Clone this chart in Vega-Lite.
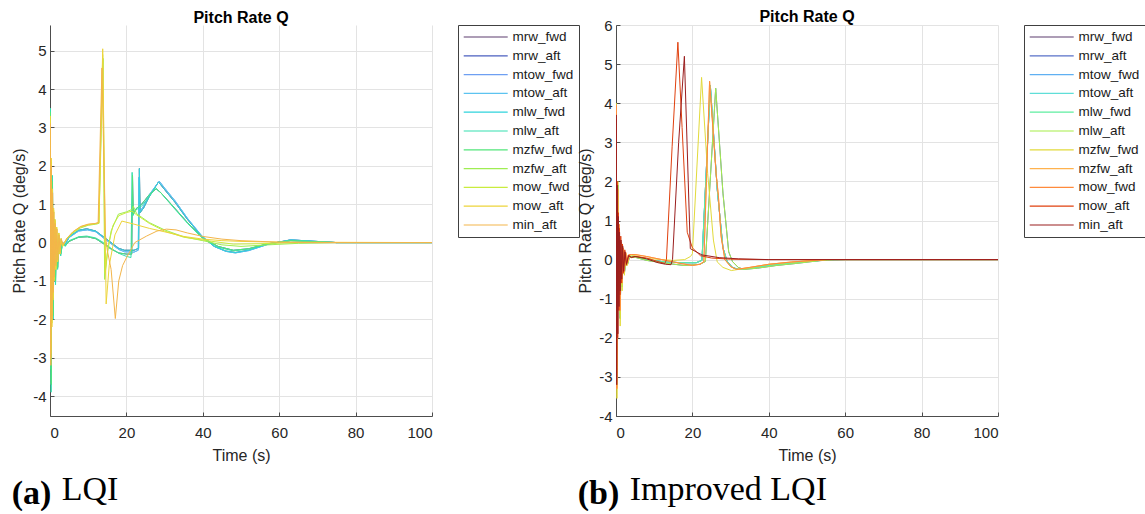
{
"$schema": "https://vega.github.io/schema/vega-lite/v6.json",
"background": "white",
"padding": {"left": 11, "top": 9, "right": 0, "bottom": 0},
"config": {
  "locale": {"number": {"decimal": ".", "thousands": ",", "grouping": [3], "currency": ["$", ""], "minus": "-"}},
  "view": {"stroke": null},
  "concat": {"spacing": -3},
  "axis": {"labelFont": "Liberation Sans", "labelFontSize": 15, "labelColor": "#262626", "titleFont": "Liberation Sans", "titleFontSize": 16, "titleFontWeight": "normal", "titleColor": "#262626", "gridColor": "#e3e3e3", "gridWidth": 1, "domainColor": "#4d4d4d", "domainWidth": 1, "tickColor": "#4d4d4d", "tickSize": -4, "labelPadding": 8, "titlePadding": 5},
  "axisX": {"labelPadding": 13, "titlePadding": 7},
  "title": {"font": "Liberation Sans", "fontSize": 16, "fontWeight": "bold", "color": "#000000", "offset": -1, "frame": "group", "anchor": "middle"},
  "legend": {"orient": "right", "offset": 25, "symbolType": "M-1,0H6", "symbolSize": 158, "symbolStrokeWidth": 1.2, "labelFont": "Liberation Sans", "labelFontSize": 13.5, "labelColor": "#1a1a1a", "strokeColor": "#404040", "fillColor": "white", "padding": 5, "rowPadding": 4.8, "labelOffset": 35.4, "titlePadding": 0}
},
"datasets": {
"a": [
{"s":"mrw_fwd","t":0,"q":0},{"s":"mrw_fwd","t":0.1,"q":2.8},{"s":"mrw_fwd","t":0.3,"q":-3.3},{"s":"mrw_fwd","t":0.55,"q":1.3},{"s":"mrw_fwd","t":0.8,"q":-1.6},{"s":"mrw_fwd","t":1.05,"q":0.5},{"s":"mrw_fwd","t":1.3,"q":-1.0},{"s":"mrw_fwd","t":1.6,"q":0.3},{"s":"mrw_fwd","t":1.9,"q":-0.6},{"s":"mrw_fwd","t":2.3,"q":0.1},{"s":"mrw_fwd","t":2.7,"q":-0.3},{"s":"mrw_fwd","t":3.2,"q":0.0},{"s":"mrw_fwd","t":4,"q":-0.05},{"s":"mrw_fwd","t":5,"q":0.15},{"s":"mrw_fwd","t":7.5,"q":0.32},{"s":"mrw_fwd","t":9.6,"q":0.36},{"s":"mrw_fwd","t":12,"q":0.3},{"s":"mrw_fwd","t":14,"q":0.15},{"s":"mrw_fwd","t":16,"q":0.0},{"s":"mrw_fwd","t":18,"q":-0.15},{"s":"mrw_fwd","t":19.5,"q":-0.2},{"s":"mrw_fwd","t":22,"q":-0.2},{"s":"mrw_fwd","t":23.2,"q":-0.15},{"s":"mrw_fwd","t":23.4,"q":1.93},{"s":"mrw_fwd","t":23.6,"q":0.78},{"s":"mrw_fwd","t":24.5,"q":0.9},{"s":"mrw_fwd","t":26,"q":1.2},{"s":"mrw_fwd","t":28.4,"q":1.58},{"s":"mrw_fwd","t":30,"q":1.38},{"s":"mrw_fwd","t":32.8,"q":1.04},{"s":"mrw_fwd","t":36,"q":0.6},{"s":"mrw_fwd","t":39.7,"q":0.16},{"s":"mrw_fwd","t":43,"q":-0.1},{"s":"mrw_fwd","t":46,"q":-0.22},{"s":"mrw_fwd","t":48.5,"q":-0.26},{"s":"mrw_fwd","t":52,"q":-0.2},{"s":"mrw_fwd","t":57,"q":-0.04},{"s":"mrw_fwd","t":63,"q":0.07},{"s":"mrw_fwd","t":68,"q":0.04},{"s":"mrw_fwd","t":75,"q":0},{"s":"mrw_fwd","t":100,"q":0},
{"s":"mrw_aft","t":0,"q":0},{"s":"mrw_aft","t":0.1,"q":3.4},{"s":"mrw_aft","t":0.3,"q":-3.7},{"s":"mrw_aft","t":0.5,"q":0.9},{"s":"mrw_aft","t":0.65,"q":1.6},{"s":"mrw_aft","t":0.85,"q":-1.9},{"s":"mrw_aft","t":1.05,"q":0.25},{"s":"mrw_aft","t":1.2,"q":0.55},{"s":"mrw_aft","t":1.45,"q":-1.0},{"s":"mrw_aft","t":1.7,"q":0.2},{"s":"mrw_aft","t":2.0,"q":-0.65},{"s":"mrw_aft","t":2.4,"q":0.08},{"s":"mrw_aft","t":2.8,"q":-0.3},{"s":"mrw_aft","t":3.3,"q":0.0},{"s":"mrw_aft","t":4,"q":-0.08},{"s":"mrw_aft","t":5,"q":0.03},{"s":"mrw_aft","t":7.5,"q":0.14},{"s":"mrw_aft","t":9.8,"q":0.15},{"s":"mrw_aft","t":12,"q":0.1},{"s":"mrw_aft","t":14,"q":-0.03},{"s":"mrw_aft","t":16,"q":-0.17},{"s":"mrw_aft","t":18,"q":-0.27},{"s":"mrw_aft","t":20,"q":-0.3},{"s":"mrw_aft","t":21.4,"q":-0.3},{"s":"mrw_aft","t":21.6,"q":1.75},{"s":"mrw_aft","t":21.8,"q":0.75},{"s":"mrw_aft","t":22.5,"q":0.88},{"s":"mrw_aft","t":24,"q":1.0},{"s":"mrw_aft","t":26,"q":1.25},{"s":"mrw_aft","t":27.8,"q":1.4},{"s":"mrw_aft","t":29,"q":1.3},{"s":"mrw_aft","t":32,"q":0.97},{"s":"mrw_aft","t":36,"q":0.52},{"s":"mrw_aft","t":40,"q":0.12},{"s":"mrw_aft","t":44,"q":-0.1},{"s":"mrw_aft","t":48,"q":-0.2},{"s":"mrw_aft","t":52,"q":-0.16},{"s":"mrw_aft","t":57,"q":-0.03},{"s":"mrw_aft","t":63,"q":0.05},{"s":"mrw_aft","t":68,"q":0.03},{"s":"mrw_aft","t":75,"q":0},{"s":"mrw_aft","t":100,"q":0},
{"s":"mtow_fwd","t":0,"q":0},{"s":"mtow_fwd","t":0.1,"q":2.6},{"s":"mtow_fwd","t":0.3,"q":-3.1},{"s":"mtow_fwd","t":0.55,"q":1.2},{"s":"mtow_fwd","t":0.8,"q":-1.5},{"s":"mtow_fwd","t":1.05,"q":0.45},{"s":"mtow_fwd","t":1.3,"q":-0.9},{"s":"mtow_fwd","t":1.6,"q":0.25},{"s":"mtow_fwd","t":1.9,"q":-0.55},{"s":"mtow_fwd","t":2.3,"q":0.08},{"s":"mtow_fwd","t":2.7,"q":-0.25},{"s":"mtow_fwd","t":3.2,"q":0.0},{"s":"mtow_fwd","t":4,"q":-0.05},{"s":"mtow_fwd","t":5,"q":0.13},{"s":"mtow_fwd","t":7.5,"q":0.3},{"s":"mtow_fwd","t":9.8,"q":0.33},{"s":"mtow_fwd","t":12,"q":0.28},{"s":"mtow_fwd","t":14,"q":0.12},{"s":"mtow_fwd","t":16,"q":-0.03},{"s":"mtow_fwd","t":18,"q":-0.18},{"s":"mtow_fwd","t":19.5,"q":-0.24},{"s":"mtow_fwd","t":22,"q":-0.25},{"s":"mtow_fwd","t":23.1,"q":-0.2},{"s":"mtow_fwd","t":23.3,"q":1.7},{"s":"mtow_fwd","t":23.5,"q":0.8},{"s":"mtow_fwd","t":24.5,"q":0.95},{"s":"mtow_fwd","t":26,"q":1.25},{"s":"mtow_fwd","t":28.6,"q":1.6},{"s":"mtow_fwd","t":30,"q":1.42},{"s":"mtow_fwd","t":32.8,"q":1.08},{"s":"mtow_fwd","t":36,"q":0.63},{"s":"mtow_fwd","t":39.7,"q":0.18},{"s":"mtow_fwd","t":43,"q":-0.1},{"s":"mtow_fwd","t":46,"q":-0.23},{"s":"mtow_fwd","t":48.5,"q":-0.27},{"s":"mtow_fwd","t":52,"q":-0.21},{"s":"mtow_fwd","t":57,"q":-0.05},{"s":"mtow_fwd","t":63,"q":0.07},{"s":"mtow_fwd","t":68,"q":0.04},{"s":"mtow_fwd","t":75,"q":0},{"s":"mtow_fwd","t":100,"q":0},
{"s":"mtow_aft","t":0,"q":0},{"s":"mtow_aft","t":0.1,"q":2.6},{"s":"mtow_aft","t":0.3,"q":-3.1},{"s":"mtow_aft","t":0.55,"q":1.2},{"s":"mtow_aft","t":0.8,"q":-1.5},{"s":"mtow_aft","t":1.05,"q":0.45},{"s":"mtow_aft","t":1.3,"q":-0.9},{"s":"mtow_aft","t":1.6,"q":0.25},{"s":"mtow_aft","t":1.9,"q":-0.55},{"s":"mtow_aft","t":2.3,"q":0.08},{"s":"mtow_aft","t":2.7,"q":-0.25},{"s":"mtow_aft","t":3.2,"q":0.0},{"s":"mtow_aft","t":4,"q":-0.05},{"s":"mtow_aft","t":5,"q":0.13},{"s":"mtow_aft","t":7.5,"q":0.3},{"s":"mtow_aft","t":9.8,"q":0.33},{"s":"mtow_aft","t":12,"q":0.28},{"s":"mtow_aft","t":14,"q":0.12},{"s":"mtow_aft","t":16,"q":-0.03},{"s":"mtow_aft","t":18,"q":-0.18},{"s":"mtow_aft","t":19.5,"q":-0.24},{"s":"mtow_aft","t":22,"q":-0.25},{"s":"mtow_aft","t":23.1,"q":-0.2},{"s":"mtow_aft","t":23.3,"q":1.7},{"s":"mtow_aft","t":23.5,"q":0.8},{"s":"mtow_aft","t":24.5,"q":0.95},{"s":"mtow_aft","t":26,"q":1.25},{"s":"mtow_aft","t":28.6,"q":1.6},{"s":"mtow_aft","t":30,"q":1.42},{"s":"mtow_aft","t":32.8,"q":1.08},{"s":"mtow_aft","t":36,"q":0.63},{"s":"mtow_aft","t":39.7,"q":0.18},{"s":"mtow_aft","t":43,"q":-0.1},{"s":"mtow_aft","t":46,"q":-0.23},{"s":"mtow_aft","t":48.5,"q":-0.27},{"s":"mtow_aft","t":52,"q":-0.21},{"s":"mtow_aft","t":57,"q":-0.05},{"s":"mtow_aft","t":63,"q":0.07},{"s":"mtow_aft","t":68,"q":0.04},{"s":"mtow_aft","t":75,"q":0},{"s":"mtow_aft","t":100,"q":0},
{"s":"mlw_fwd","t":0,"q":0},{"s":"mlw_fwd","t":0.1,"q":2.8},{"s":"mlw_fwd","t":0.3,"q":-3.3},{"s":"mlw_fwd","t":0.55,"q":1.3},{"s":"mlw_fwd","t":0.8,"q":-1.6},{"s":"mlw_fwd","t":1.05,"q":0.5},{"s":"mlw_fwd","t":1.3,"q":-1.0},{"s":"mlw_fwd","t":1.6,"q":0.3},{"s":"mlw_fwd","t":1.9,"q":-0.6},{"s":"mlw_fwd","t":2.3,"q":0.1},{"s":"mlw_fwd","t":2.7,"q":-0.3},{"s":"mlw_fwd","t":3.2,"q":0.0},{"s":"mlw_fwd","t":4,"q":-0.05},{"s":"mlw_fwd","t":5,"q":0.15},{"s":"mlw_fwd","t":7.5,"q":0.32},{"s":"mlw_fwd","t":9.6,"q":0.36},{"s":"mlw_fwd","t":12,"q":0.3},{"s":"mlw_fwd","t":14,"q":0.15},{"s":"mlw_fwd","t":16,"q":0.0},{"s":"mlw_fwd","t":18,"q":-0.15},{"s":"mlw_fwd","t":19.5,"q":-0.2},{"s":"mlw_fwd","t":22,"q":-0.2},{"s":"mlw_fwd","t":23.2,"q":-0.15},{"s":"mlw_fwd","t":23.4,"q":1.93},{"s":"mlw_fwd","t":23.6,"q":0.78},{"s":"mlw_fwd","t":24.5,"q":0.9},{"s":"mlw_fwd","t":26,"q":1.2},{"s":"mlw_fwd","t":28.4,"q":1.58},{"s":"mlw_fwd","t":30,"q":1.38},{"s":"mlw_fwd","t":32.8,"q":1.04},{"s":"mlw_fwd","t":36,"q":0.6},{"s":"mlw_fwd","t":39.7,"q":0.16},{"s":"mlw_fwd","t":43,"q":-0.1},{"s":"mlw_fwd","t":46,"q":-0.22},{"s":"mlw_fwd","t":48.5,"q":-0.26},{"s":"mlw_fwd","t":52,"q":-0.2},{"s":"mlw_fwd","t":57,"q":-0.04},{"s":"mlw_fwd","t":63,"q":0.07},{"s":"mlw_fwd","t":68,"q":0.04},{"s":"mlw_fwd","t":75,"q":0},{"s":"mlw_fwd","t":100,"q":0},
{"s":"mlw_aft","t":0,"q":0},{"s":"mlw_aft","t":0.1,"q":3.5},{"s":"mlw_aft","t":0.3,"q":-3.9},{"s":"mlw_aft","t":0.5,"q":1.0},{"s":"mlw_aft","t":0.65,"q":1.75},{"s":"mlw_aft","t":0.85,"q":-2.0},{"s":"mlw_aft","t":1.05,"q":0.3},{"s":"mlw_aft","t":1.2,"q":0.6},{"s":"mlw_aft","t":1.45,"q":-1.1},{"s":"mlw_aft","t":1.7,"q":0.25},{"s":"mlw_aft","t":2.0,"q":-0.7},{"s":"mlw_aft","t":2.4,"q":0.1},{"s":"mlw_aft","t":2.8,"q":-0.35},{"s":"mlw_aft","t":3.3,"q":0.0},{"s":"mlw_aft","t":4,"q":-0.1},{"s":"mlw_aft","t":5,"q":0.05},{"s":"mlw_aft","t":7.5,"q":0.15},{"s":"mlw_aft","t":9.6,"q":0.17},{"s":"mlw_aft","t":12,"q":0.12},{"s":"mlw_aft","t":14,"q":0.0},{"s":"mlw_aft","t":16,"q":-0.15},{"s":"mlw_aft","t":18,"q":-0.28},{"s":"mlw_aft","t":20,"q":-0.36},{"s":"mlw_aft","t":21.2,"q":-0.39},{"s":"mlw_aft","t":21.5,"q":1.83},{"s":"mlw_aft","t":21.7,"q":0.7},{"s":"mlw_aft","t":22.5,"q":0.85},{"s":"mlw_aft","t":24,"q":0.95},{"s":"mlw_aft","t":26,"q":1.2},{"s":"mlw_aft","t":27.6,"q":1.43},{"s":"mlw_aft","t":29,"q":1.3},{"s":"mlw_aft","t":32,"q":0.95},{"s":"mlw_aft","t":36,"q":0.5},{"s":"mlw_aft","t":40,"q":0.1},{"s":"mlw_aft","t":44,"q":-0.12},{"s":"mlw_aft","t":48,"q":-0.22},{"s":"mlw_aft","t":52,"q":-0.17},{"s":"mlw_aft","t":57,"q":-0.03},{"s":"mlw_aft","t":63,"q":0.05},{"s":"mlw_aft","t":68,"q":0.03},{"s":"mlw_aft","t":75,"q":0},{"s":"mlw_aft","t":100,"q":0},
{"s":"mzfw_fwd","t":0,"q":0},{"s":"mzfw_fwd","t":0.1,"q":3.4},{"s":"mzfw_fwd","t":0.3,"q":-3.7},{"s":"mzfw_fwd","t":0.5,"q":0.9},{"s":"mzfw_fwd","t":0.65,"q":1.6},{"s":"mzfw_fwd","t":0.85,"q":-1.9},{"s":"mzfw_fwd","t":1.05,"q":0.25},{"s":"mzfw_fwd","t":1.2,"q":0.55},{"s":"mzfw_fwd","t":1.45,"q":-1.0},{"s":"mzfw_fwd","t":1.7,"q":0.2},{"s":"mzfw_fwd","t":2.0,"q":-0.65},{"s":"mzfw_fwd","t":2.4,"q":0.08},{"s":"mzfw_fwd","t":2.8,"q":-0.3},{"s":"mzfw_fwd","t":3.3,"q":0.0},{"s":"mzfw_fwd","t":4,"q":-0.08},{"s":"mzfw_fwd","t":5,"q":0.03},{"s":"mzfw_fwd","t":7.5,"q":0.14},{"s":"mzfw_fwd","t":9.8,"q":0.15},{"s":"mzfw_fwd","t":12,"q":0.1},{"s":"mzfw_fwd","t":14,"q":-0.03},{"s":"mzfw_fwd","t":16,"q":-0.17},{"s":"mzfw_fwd","t":18,"q":-0.27},{"s":"mzfw_fwd","t":20,"q":-0.3},{"s":"mzfw_fwd","t":21.4,"q":-0.3},{"s":"mzfw_fwd","t":21.6,"q":1.75},{"s":"mzfw_fwd","t":21.8,"q":0.75},{"s":"mzfw_fwd","t":22.5,"q":0.88},{"s":"mzfw_fwd","t":24,"q":1.0},{"s":"mzfw_fwd","t":26,"q":1.25},{"s":"mzfw_fwd","t":27.8,"q":1.4},{"s":"mzfw_fwd","t":29,"q":1.3},{"s":"mzfw_fwd","t":32,"q":0.97},{"s":"mzfw_fwd","t":36,"q":0.52},{"s":"mzfw_fwd","t":40,"q":0.12},{"s":"mzfw_fwd","t":44,"q":-0.1},{"s":"mzfw_fwd","t":48,"q":-0.2},{"s":"mzfw_fwd","t":52,"q":-0.16},{"s":"mzfw_fwd","t":57,"q":-0.03},{"s":"mzfw_fwd","t":63,"q":0.05},{"s":"mzfw_fwd","t":68,"q":0.03},{"s":"mzfw_fwd","t":75,"q":0},{"s":"mzfw_fwd","t":100,"q":0},
{"s":"mzfw_aft","t":0,"q":0},{"s":"mzfw_aft","t":0.05,"q":3.0},{"s":"mzfw_aft","t":0.2,"q":-2.8},{"s":"mzfw_aft","t":0.35,"q":2.0},{"s":"mzfw_aft","t":0.5,"q":-2.0},{"s":"mzfw_aft","t":0.65,"q":1.3},{"s":"mzfw_aft","t":0.8,"q":-1.4},{"s":"mzfw_aft","t":0.95,"q":0.8},{"s":"mzfw_aft","t":1.1,"q":-0.9},{"s":"mzfw_aft","t":1.3,"q":0.55},{"s":"mzfw_aft","t":1.5,"q":-0.65},{"s":"mzfw_aft","t":1.75,"q":0.35},{"s":"mzfw_aft","t":2.0,"q":-0.45},{"s":"mzfw_aft","t":2.3,"q":0.2},{"s":"mzfw_aft","t":2.6,"q":-0.25},{"s":"mzfw_aft","t":2.9,"q":0.1},{"s":"mzfw_aft","t":3.3,"q":-0.08},{"s":"mzfw_aft","t":4.5,"q":0.1},{"s":"mzfw_aft","t":6,"q":0.25},{"s":"mzfw_aft","t":8,"q":0.38},{"s":"mzfw_aft","t":10,"q":0.45},{"s":"mzfw_aft","t":12,"q":0.48},{"s":"mzfw_aft","t":12.8,"q":0.5},{"s":"mzfw_aft","t":13.9,"q":4.8},{"s":"mzfw_aft","t":14.3,"q":-0.96},{"s":"mzfw_aft","t":15,"q":-0.3},{"s":"mzfw_aft","t":16,"q":0.3},{"s":"mzfw_aft","t":17.9,"q":0.74},{"s":"mzfw_aft","t":20,"q":0.8},{"s":"mzfw_aft","t":21.6,"q":0.87},{"s":"mzfw_aft","t":21.8,"q":0.95},{"s":"mzfw_aft","t":22.7,"q":0.75},{"s":"mzfw_aft","t":26,"q":0.52},{"s":"mzfw_aft","t":30,"q":0.33},{"s":"mzfw_aft","t":35,"q":0.15},{"s":"mzfw_aft","t":40,"q":0.05},{"s":"mzfw_aft","t":45,"q":-0.06},{"s":"mzfw_aft","t":50,"q":-0.1},{"s":"mzfw_aft","t":57,"q":-0.06},{"s":"mzfw_aft","t":65,"q":-0.02},{"s":"mzfw_aft","t":75,"q":0},{"s":"mzfw_aft","t":100,"q":0},
{"s":"mow_fwd","t":0,"q":0},{"s":"mow_fwd","t":0.05,"q":3.2},{"s":"mow_fwd","t":0.2,"q":-2.9},{"s":"mow_fwd","t":0.35,"q":2.1},{"s":"mow_fwd","t":0.5,"q":-2.1},{"s":"mow_fwd","t":0.65,"q":1.35},{"s":"mow_fwd","t":0.8,"q":-1.45},{"s":"mow_fwd","t":0.95,"q":0.85},{"s":"mow_fwd","t":1.1,"q":-0.95},{"s":"mow_fwd","t":1.3,"q":0.6},{"s":"mow_fwd","t":1.5,"q":-0.7},{"s":"mow_fwd","t":1.75,"q":0.4},{"s":"mow_fwd","t":2.0,"q":-0.5},{"s":"mow_fwd","t":2.3,"q":0.25},{"s":"mow_fwd","t":2.6,"q":-0.3},{"s":"mow_fwd","t":2.9,"q":0.1},{"s":"mow_fwd","t":3.3,"q":-0.1},{"s":"mow_fwd","t":4.5,"q":0.12},{"s":"mow_fwd","t":6,"q":0.27},{"s":"mow_fwd","t":8,"q":0.4},{"s":"mow_fwd","t":10,"q":0.46},{"s":"mow_fwd","t":12,"q":0.49},{"s":"mow_fwd","t":12.8,"q":0.5},{"s":"mow_fwd","t":13.8,"q":4.9},{"s":"mow_fwd","t":14.4,"q":-0.8},{"s":"mow_fwd","t":15.2,"q":-0.1},{"s":"mow_fwd","t":16.5,"q":0.45},{"s":"mow_fwd","t":18,"q":0.7},{"s":"mow_fwd","t":20,"q":0.78},{"s":"mow_fwd","t":21.5,"q":0.82},{"s":"mow_fwd","t":22.7,"q":0.72},{"s":"mow_fwd","t":26,"q":0.5},{"s":"mow_fwd","t":30,"q":0.3},{"s":"mow_fwd","t":35,"q":0.14},{"s":"mow_fwd","t":41,"q":0.05},{"s":"mow_fwd","t":48,"q":-0.04},{"s":"mow_fwd","t":55,"q":-0.03},{"s":"mow_fwd","t":65,"q":0},{"s":"mow_fwd","t":100,"q":0},
{"s":"mow_aft","t":0,"q":0},{"s":"mow_aft","t":0.05,"q":3.3},{"s":"mow_aft","t":0.2,"q":-3.0},{"s":"mow_aft","t":0.35,"q":2.2},{"s":"mow_aft","t":0.5,"q":-2.2},{"s":"mow_aft","t":0.65,"q":1.4},{"s":"mow_aft","t":0.8,"q":-1.5},{"s":"mow_aft","t":0.95,"q":0.9},{"s":"mow_aft","t":1.1,"q":-1.0},{"s":"mow_aft","t":1.3,"q":0.6},{"s":"mow_aft","t":1.5,"q":-0.7},{"s":"mow_aft","t":1.75,"q":0.4},{"s":"mow_aft","t":2.0,"q":-0.5},{"s":"mow_aft","t":2.3,"q":0.25},{"s":"mow_aft","t":2.6,"q":-0.3},{"s":"mow_aft","t":2.9,"q":0.1},{"s":"mow_aft","t":3.3,"q":-0.1},{"s":"mow_aft","t":4.5,"q":0.12},{"s":"mow_aft","t":6,"q":0.28},{"s":"mow_aft","t":8,"q":0.41},{"s":"mow_aft","t":10,"q":0.47},{"s":"mow_aft","t":12,"q":0.5},{"s":"mow_aft","t":12.8,"q":0.52},{"s":"mow_aft","t":13.8,"q":5.05},{"s":"mow_aft","t":14.7,"q":-1.6},{"s":"mow_aft","t":15.5,"q":-0.6},{"s":"mow_aft","t":17,"q":0.2},{"s":"mow_aft","t":18.8,"q":0.56},{"s":"mow_aft","t":22,"q":0.48},{"s":"mow_aft","t":26,"q":0.37},{"s":"mow_aft","t":30,"q":0.28},{"s":"mow_aft","t":35,"q":0.16},{"s":"mow_aft","t":40,"q":0.09},{"s":"mow_aft","t":45,"q":0.05},{"s":"mow_aft","t":50,"q":0.03},{"s":"mow_aft","t":60,"q":0.01},{"s":"mow_aft","t":100,"q":0},
{"s":"min_aft","t":0,"q":0},{"s":"min_aft","t":0.07,"q":3.1},{"s":"min_aft","t":0.22,"q":-3.2},{"s":"min_aft","t":0.38,"q":2.0},{"s":"min_aft","t":0.53,"q":-2.0},{"s":"min_aft","t":0.68,"q":1.3},{"s":"min_aft","t":0.83,"q":-1.3},{"s":"min_aft","t":0.98,"q":0.8},{"s":"min_aft","t":1.13,"q":-0.9},{"s":"min_aft","t":1.33,"q":0.5},{"s":"min_aft","t":1.55,"q":-0.6},{"s":"min_aft","t":1.8,"q":0.35},{"s":"min_aft","t":2.05,"q":-0.45},{"s":"min_aft","t":2.35,"q":0.2},{"s":"min_aft","t":2.65,"q":-0.25},{"s":"min_aft","t":2.95,"q":0.1},{"s":"min_aft","t":3.4,"q":-0.05},{"s":"min_aft","t":4.5,"q":0.12},{"s":"min_aft","t":6,"q":0.28},{"s":"min_aft","t":8,"q":0.42},{"s":"min_aft","t":10,"q":0.48},{"s":"min_aft","t":12,"q":0.5},{"s":"min_aft","t":12.6,"q":0.52},{"s":"min_aft","t":13.6,"q":4.55},{"s":"min_aft","t":14.5,"q":0.2},{"s":"min_aft","t":15,"q":-0.2},{"s":"min_aft","t":16,"q":-0.7},{"s":"min_aft","t":17.1,"q":-1.98},{"s":"min_aft","t":18,"q":-1.0},{"s":"min_aft","t":19,"q":-0.6},{"s":"min_aft","t":20,"q":-0.4},{"s":"min_aft","t":22.2,"q":0.0},{"s":"min_aft","t":25.3,"q":0.17},{"s":"min_aft","t":28,"q":0.3},{"s":"min_aft","t":30.5,"q":0.35},{"s":"min_aft","t":33,"q":0.33},{"s":"min_aft","t":36,"q":0.25},{"s":"min_aft","t":40,"q":0.16},{"s":"min_aft","t":45,"q":0.09},{"s":"min_aft","t":50,"q":0.05},{"s":"min_aft","t":55,"q":0.03},{"s":"min_aft","t":60,"q":0.01},{"s":"min_aft","t":70,"q":0},{"s":"min_aft","t":100,"q":0}
],
"b": [
{"s":"mrw_fwd","t":0,"q":0},{"s":"mrw_fwd","t":0.05,"q":3.4},{"s":"mrw_fwd","t":0.25,"q":-3.2},{"s":"mrw_fwd","t":0.5,"q":1.9},{"s":"mrw_fwd","t":0.7,"q":-0.9},{"s":"mrw_fwd","t":0.9,"q":0.7},{"s":"mrw_fwd","t":1.1,"q":-1.5},{"s":"mrw_fwd","t":1.35,"q":0.35},{"s":"mrw_fwd","t":1.6,"q":-0.7},{"s":"mrw_fwd","t":1.9,"q":0.25},{"s":"mrw_fwd","t":2.2,"q":-0.35},{"s":"mrw_fwd","t":2.6,"q":0.12},{"s":"mrw_fwd","t":3.0,"q":-0.12},{"s":"mrw_fwd","t":3.5,"q":0.08},{"s":"mrw_fwd","t":4,"q":0.08},{"s":"mrw_fwd","t":5,"q":0.08},{"s":"mrw_fwd","t":8,"q":0.0},{"s":"mrw_fwd","t":12,"q":-0.05},{"s":"mrw_fwd","t":17,"q":-0.08},{"s":"mrw_fwd","t":21,"q":-0.08},{"s":"mrw_fwd","t":22.5,"q":-0.02},{"s":"mrw_fwd","t":24.7,"q":4.45},{"s":"mrw_fwd","t":26.5,"q":1.8},{"s":"mrw_fwd","t":28,"q":0.3},{"s":"mrw_fwd","t":29.1,"q":-0.05},{"s":"mrw_fwd","t":30.5,"q":-0.2},{"s":"mrw_fwd","t":32,"q":-0.25},{"s":"mrw_fwd","t":35,"q":-0.22},{"s":"mrw_fwd","t":40,"q":-0.15},{"s":"mrw_fwd","t":45,"q":-0.1},{"s":"mrw_fwd","t":50,"q":-0.05},{"s":"mrw_fwd","t":55,"q":-0.01},{"s":"mrw_fwd","t":60,"q":0},{"s":"mrw_fwd","t":100,"q":0},
{"s":"mrw_aft","t":0,"q":0},{"s":"mrw_aft","t":0.05,"q":3.2},{"s":"mrw_aft","t":0.25,"q":-3.0},{"s":"mrw_aft","t":0.5,"q":1.8},{"s":"mrw_aft","t":0.7,"q":-0.9},{"s":"mrw_aft","t":0.9,"q":0.65},{"s":"mrw_aft","t":1.1,"q":-1.4},{"s":"mrw_aft","t":1.35,"q":0.3},{"s":"mrw_aft","t":1.6,"q":-0.65},{"s":"mrw_aft","t":1.9,"q":0.2},{"s":"mrw_aft","t":2.2,"q":-0.3},{"s":"mrw_aft","t":2.6,"q":0.1},{"s":"mrw_aft","t":3.0,"q":-0.1},{"s":"mrw_aft","t":3.5,"q":0.06},{"s":"mrw_aft","t":4,"q":0.06},{"s":"mrw_aft","t":5,"q":0.06},{"s":"mrw_aft","t":8,"q":-0.02},{"s":"mrw_aft","t":12,"q":-0.08},{"s":"mrw_aft","t":17.8,"q":-0.15},{"s":"mrw_aft","t":22,"q":-0.12},{"s":"mrw_aft","t":23.4,"q":-0.05},{"s":"mrw_aft","t":26.1,"q":4.38},{"s":"mrw_aft","t":28,"q":1.7},{"s":"mrw_aft","t":29.5,"q":0.2},{"s":"mrw_aft","t":30.5,"q":-0.05},{"s":"mrw_aft","t":32,"q":-0.2},{"s":"mrw_aft","t":33.5,"q":-0.25},{"s":"mrw_aft","t":37,"q":-0.22},{"s":"mrw_aft","t":42,"q":-0.15},{"s":"mrw_aft","t":47,"q":-0.1},{"s":"mrw_aft","t":53,"q":-0.03},{"s":"mrw_aft","t":57,"q":0},{"s":"mrw_aft","t":100,"q":0},
{"s":"mtow_fwd","t":0,"q":0},{"s":"mtow_fwd","t":0.05,"q":3.4},{"s":"mtow_fwd","t":0.25,"q":-3.2},{"s":"mtow_fwd","t":0.5,"q":1.9},{"s":"mtow_fwd","t":0.7,"q":-0.9},{"s":"mtow_fwd","t":0.9,"q":0.7},{"s":"mtow_fwd","t":1.1,"q":-1.5},{"s":"mtow_fwd","t":1.35,"q":0.35},{"s":"mtow_fwd","t":1.6,"q":-0.7},{"s":"mtow_fwd","t":1.9,"q":0.25},{"s":"mtow_fwd","t":2.2,"q":-0.35},{"s":"mtow_fwd","t":2.6,"q":0.12},{"s":"mtow_fwd","t":3.0,"q":-0.12},{"s":"mtow_fwd","t":3.5,"q":0.08},{"s":"mtow_fwd","t":4,"q":0.08},{"s":"mtow_fwd","t":5,"q":0.08},{"s":"mtow_fwd","t":8,"q":0.0},{"s":"mtow_fwd","t":12,"q":-0.05},{"s":"mtow_fwd","t":17,"q":-0.08},{"s":"mtow_fwd","t":21,"q":-0.08},{"s":"mtow_fwd","t":22.5,"q":-0.02},{"s":"mtow_fwd","t":24.7,"q":4.45},{"s":"mtow_fwd","t":26.5,"q":1.8},{"s":"mtow_fwd","t":28,"q":0.3},{"s":"mtow_fwd","t":29.1,"q":-0.05},{"s":"mtow_fwd","t":30.5,"q":-0.2},{"s":"mtow_fwd","t":32,"q":-0.25},{"s":"mtow_fwd","t":35,"q":-0.22},{"s":"mtow_fwd","t":40,"q":-0.15},{"s":"mtow_fwd","t":45,"q":-0.1},{"s":"mtow_fwd","t":50,"q":-0.05},{"s":"mtow_fwd","t":55,"q":-0.01},{"s":"mtow_fwd","t":60,"q":0},{"s":"mtow_fwd","t":100,"q":0},
{"s":"mtow_aft","t":0,"q":0},{"s":"mtow_aft","t":0.05,"q":3.4},{"s":"mtow_aft","t":0.25,"q":-3.2},{"s":"mtow_aft","t":0.5,"q":1.9},{"s":"mtow_aft","t":0.7,"q":-0.9},{"s":"mtow_aft","t":0.9,"q":0.7},{"s":"mtow_aft","t":1.1,"q":-1.5},{"s":"mtow_aft","t":1.35,"q":0.35},{"s":"mtow_aft","t":1.6,"q":-0.7},{"s":"mtow_aft","t":1.9,"q":0.25},{"s":"mtow_aft","t":2.2,"q":-0.35},{"s":"mtow_aft","t":2.6,"q":0.12},{"s":"mtow_aft","t":3.0,"q":-0.12},{"s":"mtow_aft","t":3.5,"q":0.08},{"s":"mtow_aft","t":4,"q":0.08},{"s":"mtow_aft","t":5,"q":0.08},{"s":"mtow_aft","t":8,"q":0.0},{"s":"mtow_aft","t":12,"q":-0.05},{"s":"mtow_aft","t":17,"q":-0.08},{"s":"mtow_aft","t":21,"q":-0.08},{"s":"mtow_aft","t":22.5,"q":-0.02},{"s":"mtow_aft","t":24.7,"q":4.45},{"s":"mtow_aft","t":26.5,"q":1.8},{"s":"mtow_aft","t":28,"q":0.3},{"s":"mtow_aft","t":29.1,"q":-0.05},{"s":"mtow_aft","t":30.5,"q":-0.2},{"s":"mtow_aft","t":32,"q":-0.25},{"s":"mtow_aft","t":35,"q":-0.22},{"s":"mtow_aft","t":40,"q":-0.15},{"s":"mtow_aft","t":45,"q":-0.1},{"s":"mtow_aft","t":50,"q":-0.05},{"s":"mtow_aft","t":55,"q":-0.01},{"s":"mtow_aft","t":60,"q":0},{"s":"mtow_aft","t":100,"q":0},
{"s":"mlw_fwd","t":0,"q":0},{"s":"mlw_fwd","t":0.05,"q":3.4},{"s":"mlw_fwd","t":0.25,"q":-3.2},{"s":"mlw_fwd","t":0.5,"q":1.9},{"s":"mlw_fwd","t":0.7,"q":-0.9},{"s":"mlw_fwd","t":0.9,"q":0.7},{"s":"mlw_fwd","t":1.1,"q":-1.5},{"s":"mlw_fwd","t":1.35,"q":0.35},{"s":"mlw_fwd","t":1.6,"q":-0.7},{"s":"mlw_fwd","t":1.9,"q":0.25},{"s":"mlw_fwd","t":2.2,"q":-0.35},{"s":"mlw_fwd","t":2.6,"q":0.12},{"s":"mlw_fwd","t":3.0,"q":-0.12},{"s":"mlw_fwd","t":3.5,"q":0.08},{"s":"mlw_fwd","t":4,"q":0.08},{"s":"mlw_fwd","t":5,"q":0.08},{"s":"mlw_fwd","t":8,"q":0.0},{"s":"mlw_fwd","t":12,"q":-0.05},{"s":"mlw_fwd","t":17,"q":-0.08},{"s":"mlw_fwd","t":21,"q":-0.08},{"s":"mlw_fwd","t":22.5,"q":-0.02},{"s":"mlw_fwd","t":24.7,"q":4.45},{"s":"mlw_fwd","t":26.5,"q":1.8},{"s":"mlw_fwd","t":28,"q":0.3},{"s":"mlw_fwd","t":29.1,"q":-0.05},{"s":"mlw_fwd","t":30.5,"q":-0.2},{"s":"mlw_fwd","t":32,"q":-0.25},{"s":"mlw_fwd","t":35,"q":-0.22},{"s":"mlw_fwd","t":40,"q":-0.15},{"s":"mlw_fwd","t":45,"q":-0.1},{"s":"mlw_fwd","t":50,"q":-0.05},{"s":"mlw_fwd","t":55,"q":-0.01},{"s":"mlw_fwd","t":60,"q":0},{"s":"mlw_fwd","t":100,"q":0},
{"s":"mlw_aft","t":0,"q":0},{"s":"mlw_aft","t":0.05,"q":3.2},{"s":"mlw_aft","t":0.25,"q":-3.0},{"s":"mlw_aft","t":0.5,"q":1.8},{"s":"mlw_aft","t":0.7,"q":-0.9},{"s":"mlw_aft","t":0.9,"q":0.65},{"s":"mlw_aft","t":1.1,"q":-1.4},{"s":"mlw_aft","t":1.35,"q":0.3},{"s":"mlw_aft","t":1.6,"q":-0.65},{"s":"mlw_aft","t":1.9,"q":0.2},{"s":"mlw_aft","t":2.2,"q":-0.3},{"s":"mlw_aft","t":2.6,"q":0.1},{"s":"mlw_aft","t":3.0,"q":-0.1},{"s":"mlw_aft","t":3.5,"q":0.06},{"s":"mlw_aft","t":4,"q":0.06},{"s":"mlw_aft","t":5,"q":0.06},{"s":"mlw_aft","t":8,"q":-0.02},{"s":"mlw_aft","t":12,"q":-0.08},{"s":"mlw_aft","t":17.8,"q":-0.15},{"s":"mlw_aft","t":22,"q":-0.12},{"s":"mlw_aft","t":23.4,"q":-0.05},{"s":"mlw_aft","t":26.1,"q":4.38},{"s":"mlw_aft","t":28,"q":1.7},{"s":"mlw_aft","t":29.5,"q":0.2},{"s":"mlw_aft","t":30.5,"q":-0.05},{"s":"mlw_aft","t":32,"q":-0.2},{"s":"mlw_aft","t":33.5,"q":-0.25},{"s":"mlw_aft","t":37,"q":-0.22},{"s":"mlw_aft","t":42,"q":-0.15},{"s":"mlw_aft","t":47,"q":-0.1},{"s":"mlw_aft","t":53,"q":-0.03},{"s":"mlw_aft","t":57,"q":0},{"s":"mlw_aft","t":100,"q":0},
{"s":"mzfw_fwd","t":0,"q":0},{"s":"mzfw_fwd","t":0.05,"q":4.0},{"s":"mzfw_fwd","t":0.25,"q":-3.55},{"s":"mzfw_fwd","t":0.5,"q":2.0},{"s":"mzfw_fwd","t":0.7,"q":-1.0},{"s":"mzfw_fwd","t":0.9,"q":0.8},{"s":"mzfw_fwd","t":1.1,"q":-1.7},{"s":"mzfw_fwd","t":1.35,"q":0.4},{"s":"mzfw_fwd","t":1.6,"q":-0.8},{"s":"mzfw_fwd","t":1.9,"q":0.3},{"s":"mzfw_fwd","t":2.2,"q":-0.4},{"s":"mzfw_fwd","t":2.6,"q":0.15},{"s":"mzfw_fwd","t":3.0,"q":-0.15},{"s":"mzfw_fwd","t":3.5,"q":0.1},{"s":"mzfw_fwd","t":4,"q":0.1},{"s":"mzfw_fwd","t":5,"q":0.1},{"s":"mzfw_fwd","t":8,"q":0.03},{"s":"mzfw_fwd","t":12,"q":0.0},{"s":"mzfw_fwd","t":15,"q":-0.02},{"s":"mzfw_fwd","t":18,"q":0.0},{"s":"mzfw_fwd","t":19.5,"q":0.08},{"s":"mzfw_fwd","t":20,"q":0.15},{"s":"mzfw_fwd","t":22.4,"q":4.66},{"s":"mzfw_fwd","t":24,"q":2.2},{"s":"mzfw_fwd","t":25.5,"q":0.5},{"s":"mzfw_fwd","t":26.5,"q":-0.06},{"s":"mzfw_fwd","t":28,"q":-0.2},{"s":"mzfw_fwd","t":30.2,"q":-0.28},{"s":"mzfw_fwd","t":34,"q":-0.22},{"s":"mzfw_fwd","t":40,"q":-0.12},{"s":"mzfw_fwd","t":48,"q":-0.05},{"s":"mzfw_fwd","t":55,"q":0},{"s":"mzfw_fwd","t":100,"q":0},
{"s":"mzfw_aft","t":0,"q":0},{"s":"mzfw_aft","t":0.05,"q":3.95},{"s":"mzfw_aft","t":0.2,"q":-3.3},{"s":"mzfw_aft","t":0.45,"q":1.8},{"s":"mzfw_aft","t":0.65,"q":-1.1},{"s":"mzfw_aft","t":0.85,"q":0.9},{"s":"mzfw_aft","t":1.05,"q":-1.3},{"s":"mzfw_aft","t":1.3,"q":0.45},{"s":"mzfw_aft","t":1.55,"q":-0.6},{"s":"mzfw_aft","t":1.85,"q":0.3},{"s":"mzfw_aft","t":2.15,"q":-0.3},{"s":"mzfw_aft","t":2.55,"q":0.18},{"s":"mzfw_aft","t":2.95,"q":-0.08},{"s":"mzfw_aft","t":3.5,"q":0.13},{"s":"mzfw_aft","t":4,"q":0.13},{"s":"mzfw_aft","t":5,"q":0.13},{"s":"mzfw_aft","t":8,"q":0.08},{"s":"mzfw_aft","t":12,"q":0.0},{"s":"mzfw_aft","t":17,"q":-0.1},{"s":"mzfw_aft","t":20,"q":-0.15},{"s":"mzfw_aft","t":22,"q":-0.12},{"s":"mzfw_aft","t":23,"q":-0.05},{"s":"mzfw_aft","t":24.5,"q":4.56},{"s":"mzfw_aft","t":26.2,"q":2.2},{"s":"mzfw_aft","t":26.8,"q":1.64},{"s":"mzfw_aft","t":27.5,"q":0.6},{"s":"mzfw_aft","t":28.5,"q":0.0},{"s":"mzfw_aft","t":30,"q":-0.18},{"s":"mzfw_aft","t":31.5,"q":-0.25},{"s":"mzfw_aft","t":35,"q":-0.2},{"s":"mzfw_aft","t":40,"q":-0.12},{"s":"mzfw_aft","t":46,"q":-0.06},{"s":"mzfw_aft","t":55,"q":0},{"s":"mzfw_aft","t":100,"q":0},
{"s":"mow_fwd","t":0,"q":0},{"s":"mow_fwd","t":0.05,"q":3.95},{"s":"mow_fwd","t":0.2,"q":-3.3},{"s":"mow_fwd","t":0.45,"q":1.8},{"s":"mow_fwd","t":0.65,"q":-1.1},{"s":"mow_fwd","t":0.85,"q":0.9},{"s":"mow_fwd","t":1.05,"q":-1.3},{"s":"mow_fwd","t":1.3,"q":0.45},{"s":"mow_fwd","t":1.55,"q":-0.6},{"s":"mow_fwd","t":1.85,"q":0.3},{"s":"mow_fwd","t":2.15,"q":-0.3},{"s":"mow_fwd","t":2.55,"q":0.18},{"s":"mow_fwd","t":2.95,"q":-0.08},{"s":"mow_fwd","t":3.5,"q":0.13},{"s":"mow_fwd","t":4,"q":0.13},{"s":"mow_fwd","t":5,"q":0.13},{"s":"mow_fwd","t":8,"q":0.08},{"s":"mow_fwd","t":12,"q":0.0},{"s":"mow_fwd","t":17,"q":-0.1},{"s":"mow_fwd","t":20,"q":-0.15},{"s":"mow_fwd","t":22,"q":-0.12},{"s":"mow_fwd","t":23,"q":-0.05},{"s":"mow_fwd","t":24.5,"q":4.56},{"s":"mow_fwd","t":26.2,"q":2.2},{"s":"mow_fwd","t":26.8,"q":1.64},{"s":"mow_fwd","t":27.5,"q":0.6},{"s":"mow_fwd","t":28.5,"q":0.0},{"s":"mow_fwd","t":30,"q":-0.18},{"s":"mow_fwd","t":31.5,"q":-0.25},{"s":"mow_fwd","t":35,"q":-0.2},{"s":"mow_fwd","t":40,"q":-0.12},{"s":"mow_fwd","t":46,"q":-0.06},{"s":"mow_fwd","t":55,"q":0},{"s":"mow_fwd","t":100,"q":0},
{"s":"mow_aft","t":0,"q":0},{"s":"mow_aft","t":0.05,"q":3.6},{"s":"mow_aft","t":0.15,"q":-3.0},{"s":"mow_aft","t":0.3,"q":2.0},{"s":"mow_aft","t":0.45,"q":-2.0},{"s":"mow_aft","t":0.6,"q":1.2},{"s":"mow_aft","t":0.75,"q":-1.3},{"s":"mow_aft","t":0.9,"q":0.8},{"s":"mow_aft","t":1.05,"q":-0.9},{"s":"mow_aft","t":1.25,"q":0.6},{"s":"mow_aft","t":1.45,"q":-0.6},{"s":"mow_aft","t":1.7,"q":0.4},{"s":"mow_aft","t":1.95,"q":-0.35},{"s":"mow_aft","t":2.3,"q":0.25},{"s":"mow_aft","t":2.7,"q":-0.15},{"s":"mow_aft","t":3.2,"q":0.12},{"s":"mow_aft","t":4,"q":0.05},{"s":"mow_aft","t":5,"q":0.08},{"s":"mow_aft","t":8,"q":0.04},{"s":"mow_aft","t":11,"q":-0.05},{"s":"mow_aft","t":12.8,"q":-0.1},{"s":"mow_aft","t":13.2,"q":0.0},{"s":"mow_aft","t":14.7,"q":2.9},{"s":"mow_aft","t":16.2,"q":5.56},{"s":"mow_aft","t":17.3,"q":3.38},{"s":"mow_aft","t":18.65,"q":0.7},{"s":"mow_aft","t":20,"q":0.3},{"s":"mow_aft","t":22.1,"q":0.1},{"s":"mow_aft","t":25,"q":0.04},{"s":"mow_aft","t":30,"q":0.01},{"s":"mow_aft","t":40,"q":0},{"s":"mow_aft","t":100,"q":0},
{"s":"min_aft","t":0,"q":0},{"s":"min_aft","t":0.06,"q":3.7},{"s":"min_aft","t":0.18,"q":-3.2},{"s":"min_aft","t":0.33,"q":1.9},{"s":"min_aft","t":0.48,"q":-1.9},{"s":"min_aft","t":0.63,"q":1.1},{"s":"min_aft","t":0.78,"q":-1.2},{"s":"min_aft","t":0.93,"q":0.7},{"s":"min_aft","t":1.1,"q":-0.8},{"s":"min_aft","t":1.3,"q":0.5},{"s":"min_aft","t":1.5,"q":-0.5},{"s":"min_aft","t":1.75,"q":0.35},{"s":"min_aft","t":2.0,"q":-0.3},{"s":"min_aft","t":2.35,"q":0.2},{"s":"min_aft","t":2.75,"q":-0.12},{"s":"min_aft","t":3.3,"q":0.1},{"s":"min_aft","t":4,"q":0.06},{"s":"min_aft","t":5,"q":0.08},{"s":"min_aft","t":8,"q":0.02},{"s":"min_aft","t":11,"q":-0.08},{"s":"min_aft","t":13,"q":-0.12},{"s":"min_aft","t":14.4,"q":-0.13},{"s":"min_aft","t":14.8,"q":0.0},{"s":"min_aft","t":16.4,"q":3.0},{"s":"min_aft","t":17.9,"q":5.2},{"s":"min_aft","t":19.45,"q":0.28},{"s":"min_aft","t":22.5,"q":0.12},{"s":"min_aft","t":27,"q":0.05},{"s":"min_aft","t":32,"q":0.02},{"s":"min_aft","t":40,"q":0},{"s":"min_aft","t":100,"q":0}
]
},
"resolve": {"scale": {"color": "independent"}, "legend": {"color": "independent"}},
"hconcat": [
  {
    "title": {"text": "LQI", "orient": "bottom", "anchor": "start", "frame": "bounds", "font": "Liberation Serif", "fontSize": 34, "fontWeight": "normal", "color": "#000000", "dx": 50, "offset": -38},
    "vconcat": [
      {
        "title": {"text": "(a)", "orient": "bottom", "anchor": "start", "frame": "bounds", "font": "Liberation Serif", "fontSize": 34, "fontWeight": "bold", "color": "#000000", "dx": 0, "offset": 14},
        "vconcat": [
          {
            "width": 382, "height": 391,
            "title": {"text": "Pitch Rate Q"},
            "data": {"name": "a"},
            "mark": {"type": "line", "strokeWidth": 1, "clip": true},
            "encoding": {
              "x": {"field": "t", "type": "quantitative", "scale": {"domain": [0, 100], "nice": false}, "axis": {"values": [0, 20, 40, 60, 80, 100], "title": "Time (s)"}},
              "y": {"field": "q", "type": "quantitative", "scale": {"domain": [-4.52, 5.67], "nice": false, "zero": false}, "axis": {"values": [-4, -3, -2, -1, 0, 1, 2, 3, 4, 5], "title": "Pitch Rate Q (deg/s)"}},
              "color": {"field": "s", "type": "nominal", "sort": null,
                "scale": {"domain": ["mrw_fwd","mrw_aft","mtow_fwd","mtow_aft","mlw_fwd","mlw_aft","mzfw_fwd","mzfw_aft","mow_fwd","mow_aft","min_aft"],
                          "range": ["#5c3d6e","#4b5fbf","#6e9ff2","#5cc3f0","#2fd3dc","#34e0b0","#52e67a","#9fed52","#c9ec3e","#edd43a","#f3b54a"]},
                "legend": {"title": null}}
            }
          }
        ]
      }
    ]
  },
  {
    "title": {"text": "Improved LQI", "orient": "bottom", "anchor": "start", "frame": "bounds", "font": "Liberation Serif", "fontSize": 34, "fontWeight": "normal", "color": "#000000", "dx": 52, "offset": -38},
    "vconcat": [
      {
        "title": {"text": "(b)", "orient": "bottom", "anchor": "start", "frame": "bounds", "font": "Liberation Serif", "fontSize": 34, "fontWeight": "bold", "color": "#000000", "dx": 0, "offset": 14},
        "vconcat": [
          {
            "width": 382, "height": 391,
            "title": {"text": "Pitch Rate Q", "offset": -7},
            "data": {"name": "b"},
            "mark": {"type": "line", "strokeWidth": 1, "clip": true},
            "encoding": {
              "x": {"field": "t", "type": "quantitative", "scale": {"domain": [0, 100], "nice": false}, "axis": {"values": [0, 20, 40, 60, 80, 100], "title": "Time (s)"}},
              "y": {"field": "q", "type": "quantitative", "scale": {"domain": [-4, 6], "nice": false, "zero": false}, "axis": {"values": [-4, -3, -2, -1, 0, 1, 2, 3, 4, 5, 6], "title": "Pitch Rate Q (deg/s)"}},
              "color": {"field": "s", "type": "nominal", "sort": null,
                "scale": {"domain": ["mrw_fwd","mrw_aft","mtow_fwd","mtow_aft","mlw_fwd","mlw_aft","mzfw_fwd","mzfw_aft","mow_fwd","mow_aft","min_aft"],
                          "range": ["#5c3d6e","#5870c8","#5fb0f2","#5fded8","#5eeea0","#a6ee48","#e2da3a","#ffb24e","#ff8a3c","#e0400e","#9a1e1e"]},
                "legend": {"title": null}}
            }
          }
        ]
      }
    ]
  }
]
}
